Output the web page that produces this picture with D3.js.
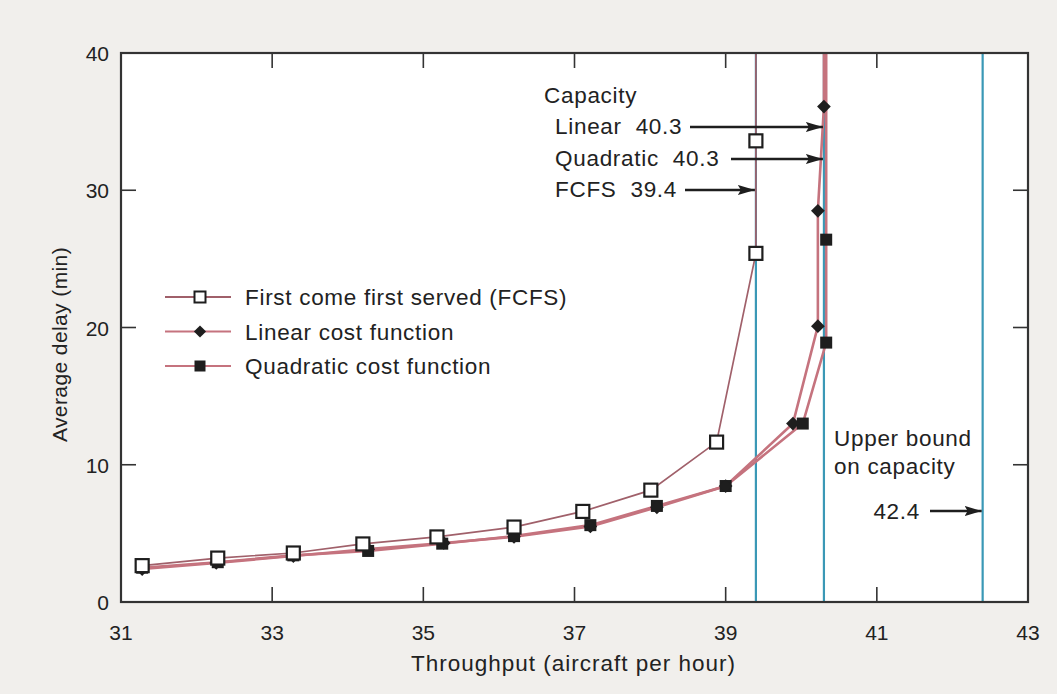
<!DOCTYPE html>
<html>
<head>
<meta charset="utf-8">
<script src="https://cdn.jsdelivr.net/npm/d3@7/dist/d3.min.js"></script>
<style>
  html, body { margin: 0; padding: 0; background: #f1efec; }
  svg { display: block; }
  text { font-family: "Liberation Sans", Arial, Helvetica, sans-serif; fill: #222; }
</style>
</head>
<body>
<svg id="chart" width="1057" height="694"></svg>
<script>
// Throughput (aircraft per hour) vs. average delay (min) for three sequencing rules
const fcfsX = [31.28, 32.28, 33.28, 34.2, 35.18, 36.2, 37.11, 38.01, 38.88, 39.4, 39.4];
const fcfsY = [2.65, 3.2, 3.57, 4.23, 4.74, 5.46, 6.6, 8.15, 11.65, 25.4, 33.6];

const linearX = [31.28, 32.26, 33.28, 34.27, 35.27, 36.2, 37.21, 38.09, 39.0, 39.89, 40.22, 40.22, 40.3];
const linearY = [2.4, 2.85, 3.35, 3.85, 4.3, 4.75, 5.5, 6.9, 8.45, 13.0, 20.1, 28.5, 36.1];

const quadX = [31.28, 32.28, 33.28, 34.27, 35.25, 36.2, 37.21, 38.09, 39.0, 40.02, 40.33, 40.33];
const quadY = [2.5, 2.9, 3.4, 3.72, 4.25, 4.8, 5.6, 7.0, 8.45, 13.0, 18.9, 26.4];

const capacityValues = [39.4, 40.3, 42.4];
const xTicks = [31, 33, 35, 37, 39, 41, 43];
const yTicks = [0, 10, 20, 30, 40];

const legendLabels = ["First come first served (FCFS)", "Linear cost function", "Quadratic cost function"];

const svg = d3.select("#chart");
const m = { left: 121, right: 1028, top: 53, bottom: 602 };

const x = d3.scaleLinear().domain([31, 43]).range([m.left, m.right]);
const y = d3.scaleLinear().domain([0, 40]).range([m.bottom, m.top]);

const lineCol = "#c5737e";
const lineDark = "#a0606a";
const blue = "#3a98b6";
const ink = "#1e1e1e";
const fs = 22.5;      // annotation / legend text size
const ls = 0.7;       // letter spacing for annotation text

// plot area
svg.append("rect")
  .attr("x", m.left).attr("y", m.top)
  .attr("width", m.right - m.left).attr("height", m.bottom - m.top)
  .attr("fill", "#fff");

// capacity lines
svg.selectAll("line.cap").data(capacityValues).enter().append("line")
  .attr("class", "cap")
  .attr("x1", d => x(d)).attr("x2", d => x(d))
  .attr("y1", m.top).attr("y2", m.bottom)
  .attr("stroke", blue).attr("stroke-width", 2.2);

// ticks on all four sides, pointing inward
const tickLen = 15;
const axisG = svg.append("g").attr("stroke", "#333").attr("stroke-width", 1.6);
xTicks.slice(1, -1).forEach(t => {
  axisG.append("line").attr("x1", x(t)).attr("x2", x(t)).attr("y1", m.bottom).attr("y2", m.bottom - tickLen);
  axisG.append("line").attr("x1", x(t)).attr("x2", x(t)).attr("y1", m.top).attr("y2", m.top + tickLen);
});
yTicks.slice(1, -1).forEach(t => {
  axisG.append("line").attr("x1", m.left).attr("x2", m.left + tickLen).attr("y1", y(t)).attr("y2", y(t));
  axisG.append("line").attr("x1", m.right).attr("x2", m.right - tickLen).attr("y1", y(t)).attr("y2", y(t));
});

// series lines
function series(xs, ys) { return xs.map((v, i) => [v, ys[i]]); }
const fcfs = series(fcfsX, fcfsY);
const linear = series(linearX, linearY);
const quad = series(quadX, quadY);

const lineGen = d3.line().x(d => x(d[0])).y(d => y(d[1]));
// each curve rises to the top of the plot at its capacity
function withAsymptote(pts) {
  const last = pts[pts.length - 1];
  return pts.concat([[last[0], y.domain()[1]]]);
}

[[quad, lineCol, 2.6], [linear, lineCol, 2.6], [fcfs, lineDark, 1.7]].forEach(([pts, col, w]) => {
  svg.append("path")
    .attr("d", lineGen(withAsymptote(pts)))
    .attr("fill", "none").attr("stroke", col).attr("stroke-width", w);
});

// markers
const sq = 12;
svg.selectAll("rect.q").data(quad).enter().append("rect")
  .attr("class", "q")
  .attr("x", d => x(d[0]) - sq / 2).attr("y", d => y(d[1]) - sq / 2)
  .attr("width", sq).attr("height", sq).attr("fill", ink);

const diamond = d3.symbol().type(d3.symbolDiamond2).size(120);
svg.selectAll("path.l").data(linear).enter().append("path")
  .attr("class", "l")
  .attr("transform", d => `translate(${x(d[0])},${y(d[1])})`)
  .attr("d", diamond).attr("fill", ink);

const osq = 13;
svg.selectAll("rect.f").data(fcfs).enter().append("rect")
  .attr("class", "f")
  .attr("x", d => x(d[0]) - osq / 2).attr("y", d => y(d[1]) - osq / 2)
  .attr("width", osq).attr("height", osq)
  .attr("fill", "#fff").attr("stroke", ink).attr("stroke-width", 2.2);

// frame
svg.append("rect")
  .attr("x", m.left).attr("y", m.top)
  .attr("width", m.right - m.left).attr("height", m.bottom - m.top)
  .attr("fill", "none").attr("stroke", "#333").attr("stroke-width", 2.2);

// tick labels
svg.selectAll("text.xt").data(xTicks).enter().append("text")
  .attr("x", d => x(d)).attr("y", m.bottom + 38)
  .attr("text-anchor", "middle").attr("font-size", 21).text(d => d);
svg.selectAll("text.yt").data(yTicks).enter().append("text")
  .attr("x", m.left - 12).attr("y", d => y(d) + 8)
  .attr("text-anchor", "end").attr("font-size", 21).text(d => d);

// axis titles
svg.append("text").attr("x", (m.left + m.right) / 2 - 1).attr("y", 671)
  .attr("text-anchor", "middle").attr("font-size", 22.5).attr("letter-spacing", 1)
  .text("Throughput (aircraft per hour)");
svg.append("text")
  .attr("transform", `translate(67,${(m.top + m.bottom) / 2 + 17}) rotate(-90)`)
  .attr("text-anchor", "middle").attr("font-size", 21).attr("letter-spacing", 0.4)
  .text("Average delay (min)");

// legend
const legendSeries = [
  { label: legendLabels[0], kind: "open", col: lineDark },
  { label: legendLabels[1], kind: "diamond", col: lineCol },
  { label: legendLabels[2], kind: "filled", col: lineCol }
];
legendSeries.forEach((s, i) => {
  const ly = 297 + i * 34.5;
  svg.append("line").attr("x1", 165).attr("x2", 231).attr("y1", ly).attr("y2", ly)
    .attr("stroke", s.col).attr("stroke-width", 2);
  if (s.kind === "open") {
    svg.append("rect").attr("x", 200 - 5.5).attr("y", ly - 5.5).attr("width", 11).attr("height", 11)
      .attr("fill", "#fff").attr("stroke", ink).attr("stroke-width", 2);
  } else if (s.kind === "diamond") {
    svg.append("path").attr("transform", `translate(200,${ly})`)
      .attr("d", d3.symbol().type(d3.symbolDiamond2).size(95)).attr("fill", ink);
  } else {
    svg.append("rect").attr("x", 200 - 5.5).attr("y", ly - 5.5).attr("width", 11).attr("height", 11).attr("fill", ink);
  }
  svg.append("text").attr("x", 245).attr("y", ly + 8).attr("font-size", fs).attr("letter-spacing", ls)
    .text(s.label);
});

// annotations
const defs = svg.append("defs");
defs.append("marker").attr("id", "head")
  .attr("viewBox", "0 0 17 10").attr("refX", 17).attr("refY", 5)
  .attr("markerWidth", 17).attr("markerHeight", 10).attr("markerUnits", "userSpaceOnUse")
  .attr("orient", "auto")
  .append("path").attr("d", "M0,0 L17,5 L0,10 L3,5 Z").attr("fill", ink);

function arrow(x1, x2, yy) {
  svg.append("line").attr("x1", x1).attr("x2", x2).attr("y1", yy).attr("y2", yy)
    .attr("stroke", ink).attr("stroke-width", 2.4).attr("marker-end", "url(#head)");
}

svg.append("text").attr("x", 544).attr("y", 103).attr("font-size", fs).attr("letter-spacing", ls)
  .text("Capacity");

const capNotes = [
  { name: "Linear", value: capacityValues[1], textY: 134, arrowFrom: 690 },
  { name: "Quadratic", value: capacityValues[1], textY: 166, arrowFrom: 731 },
  { name: "FCFS", value: capacityValues[0], textY: 197, arrowFrom: 685 }
];
capNotes.forEach(n => {
  svg.append("text").attr("x", 555).attr("y", n.textY).attr("font-size", fs).attr("letter-spacing", ls)
    .attr("xml:space", "preserve")
    .text(`${n.name}  ${n.value.toFixed(1)}`);
  arrow(n.arrowFrom, x(n.value) - 1, n.textY - 7);
});

svg.append("text").attr("x", 834).attr("y", 446).attr("font-size", fs).attr("letter-spacing", ls)
  .text("Upper bound");
svg.append("text").attr("x", 834).attr("y", 474).attr("font-size", fs).attr("letter-spacing", ls)
  .text("on capacity");
svg.append("text").attr("x", 920).attr("y", 519).attr("text-anchor", "end").attr("font-size", fs)
  .attr("letter-spacing", ls).text(capacityValues[2].toFixed(1));
arrow(930, x(capacityValues[2]) - 1, 511);
</script>
</body>
</html>
